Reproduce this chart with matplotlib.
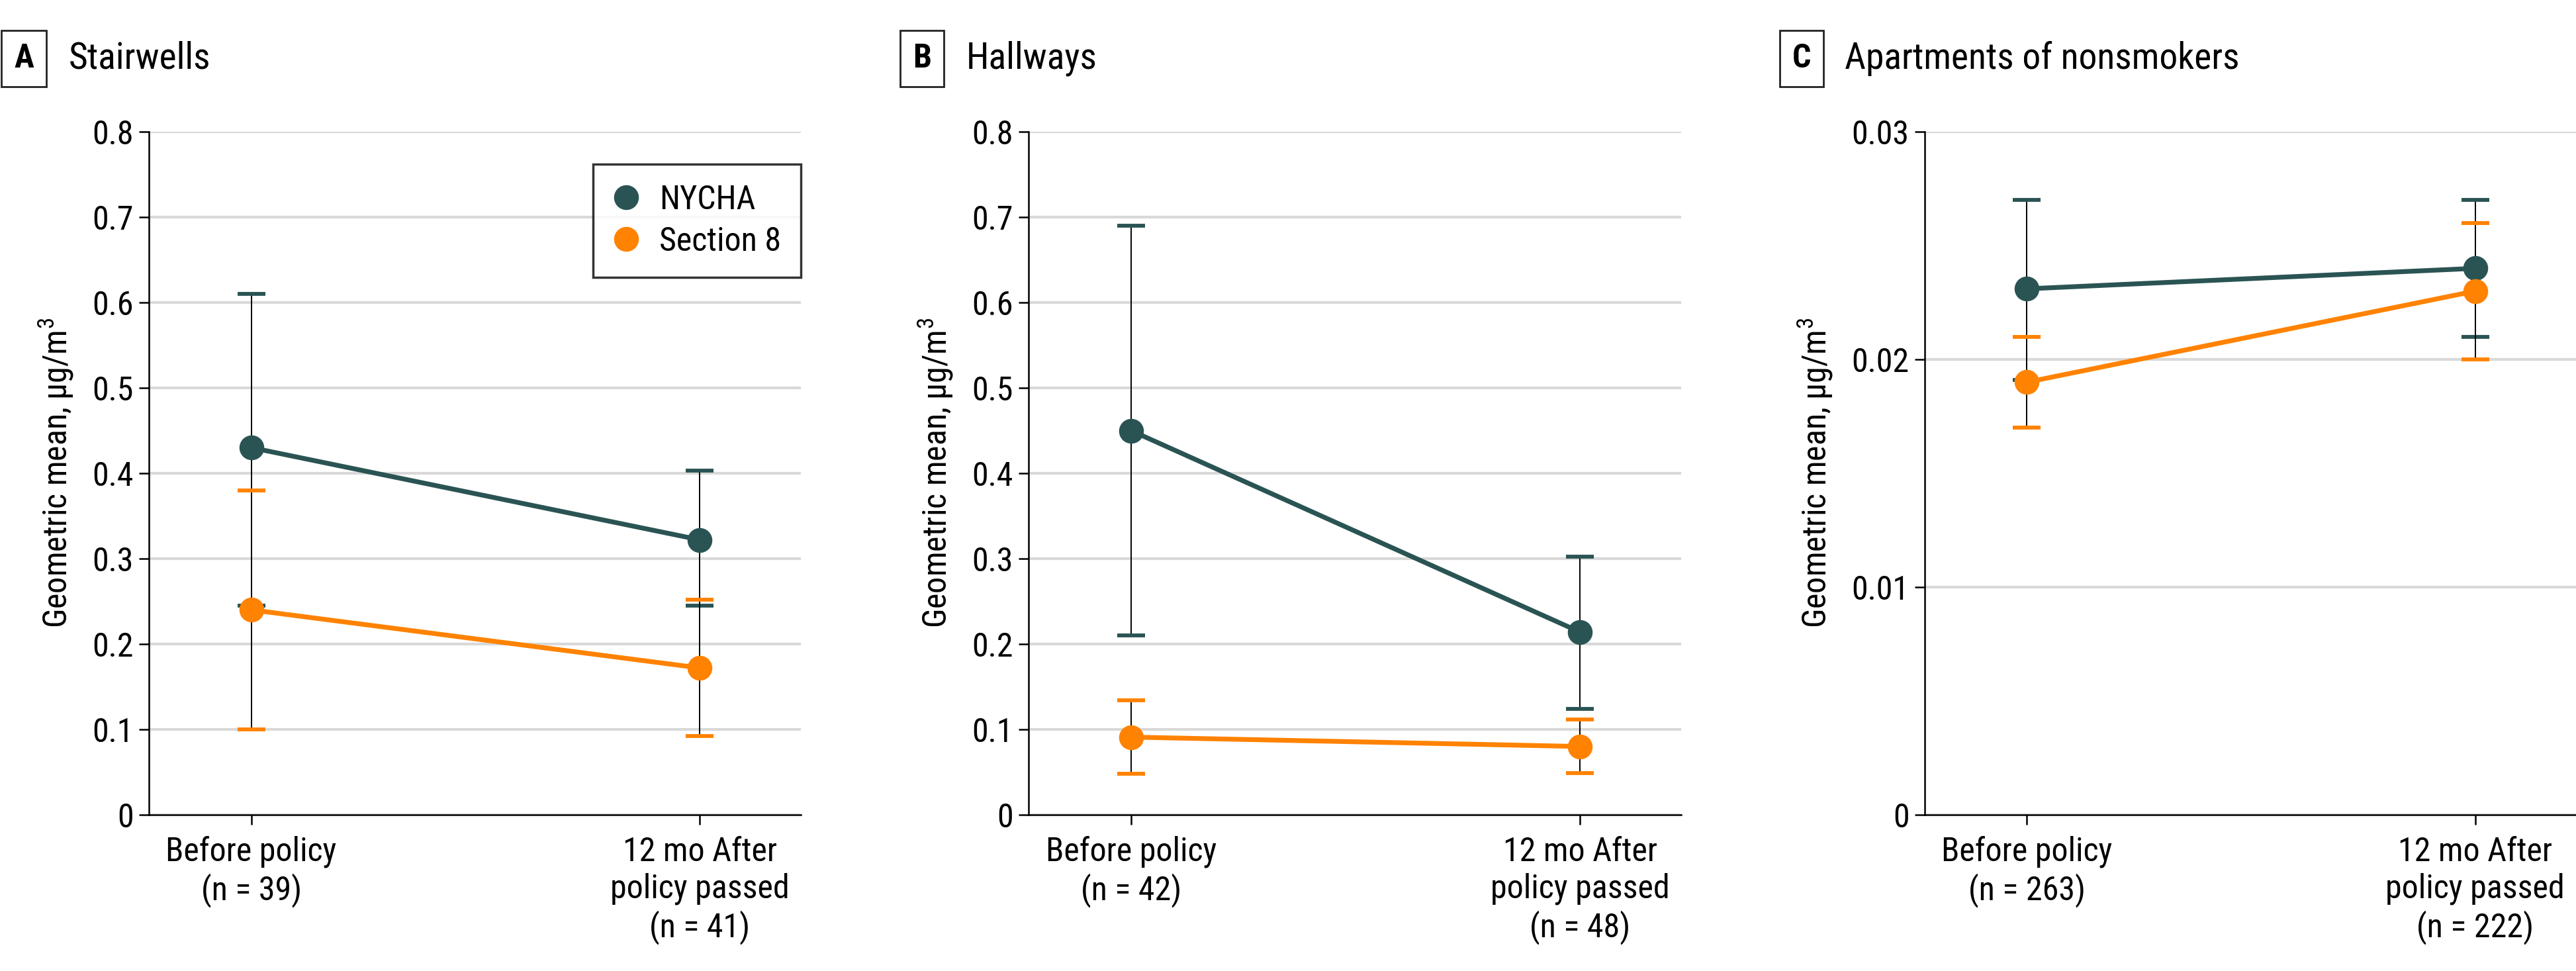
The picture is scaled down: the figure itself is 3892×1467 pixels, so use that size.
import matplotlib
matplotlib.use('Agg')
import matplotlib.pyplot as plt
from matplotlib.lines import Line2D
import numpy as np

# Данные (геометрическое среднее и 95% ДИ)
periods = ['Before policy', '12 mo After\npolicy passed']
groups = ['NYCHA', 'Section 8']

stair_n = [39, 41]
stair_nycha = [0.43, 0.322]
stair_nycha_lo = [0.245, 0.245]
stair_nycha_hi = [0.61, 0.403]
stair_s8 = [0.24, 0.172]
stair_s8_lo = [0.10, 0.092]
stair_s8_hi = [0.38, 0.252]

hall_n = [42, 48]
hall_nycha = [0.45, 0.214]
hall_nycha_lo = [0.21, 0.124]
hall_nycha_hi = [0.69, 0.302]
hall_s8 = [0.091, 0.080]
hall_s8_lo = [0.048, 0.049]
hall_s8_hi = [0.134, 0.112]

apt_n = [263, 222]
apt_nycha = [0.0231, 0.0240]
apt_nycha_lo = [0.0191, 0.021]
apt_nycha_hi = [0.027, 0.027]
apt_s8 = [0.019, 0.023]
apt_s8_lo = [0.017, 0.020]
apt_s8_hi = [0.021, 0.026]

NYCHA_COLOR = '#2a5453'
S8_COLOR = '#ff8200'
plt.rcParams['font.family'] = ['Roboto Condensed', 'DejaVu Sans']
plt.rcParams['mathtext.fontset'] = 'custom'
plt.rcParams['mathtext.rm'] = 'Roboto Condensed'
plt.rcParams['mathtext.default'] = 'regular'
FS = 36

W, H = 3892, 1467
fig = plt.figure(figsize=(W / 100, H / 100), dpi=100)


def draw_panel(ax, ns, nycha, nycha_lo, nycha_hi, s8, s8_lo, s8_hi, ymax, yticks, ylabels):
    x = np.arange(len(periods))
    series = [(nycha, nycha_lo, nycha_hi, NYCHA_COLOR),
              (s8, s8_lo, s8_hi, S8_COLOR)]
    for vals, lo, hi, color in series:
        vals = np.array(vals)
        err = [vals - np.array(lo), np.array(hi) - vals]
        _, caps, _ = ax.errorbar(x, vals, yerr=err, fmt='none', ecolor='black',
                                 elinewidth=1.4, capsize=15, capthick=4.2, zorder=3)
        for c in caps:
            c.set_markeredgecolor(color)
            c.set_markerfacecolor(color)
    for vals, lo, hi, color in series:
        ax.plot(x, vals, color=color, lw=5.2, marker='o', ms=26, zorder=4)

    ax.set_xlim(-0.228, 1.225)
    ax.set_ylim(0, ymax)
    ax.set_yticks(yticks)
    ax.set_yticklabels(ylabels)
    ax.set_xticks(x)
    ax.set_xticklabels([f'{p}\n(n = {n})' for p, n in zip(periods, ns)],
                       linespacing=1.2)
    ax.yaxis.grid(True, color='#d9d9d9', lw=3)
    ax.set_axisbelow(True)
    for s in ['top', 'right']:
        ax.spines[s].set_visible(False)
    for s in ['left', 'bottom']:
        ax.spines[s].set_linewidth(1.8)
    ax.tick_params(axis='both', labelsize=FS, length=11, width=1.8, direction='out')
    ax.tick_params(axis='y', pad=6)
    ax.tick_params(axis='x', pad=12)
    ax.set_ylabel('Geometric mean, µg/m$^{3}$', fontsize=FS, labelpad=18)


axA = fig.add_axes([225 / W, 1 - 1231 / H, 985 / W, 1032 / H])
axB = fig.add_axes([1554 / W, 1 - 1231 / H, 986 / W, 1032 / H])
axC = fig.add_axes([2908 / W, 1 - 1231 / H, 984 / W, 1032 / H])

t08 = np.round(np.arange(0, 0.81, 0.1), 1)
l08 = ['0'] + [f'{v:.1f}' for v in t08[1:]]
draw_panel(axA, stair_n, stair_nycha, stair_nycha_lo, stair_nycha_hi,
           stair_s8, stair_s8_lo, stair_s8_hi, 0.8, t08, l08)
draw_panel(axB, hall_n, hall_nycha, hall_nycha_lo, hall_nycha_hi,
           hall_s8, hall_s8_lo, hall_s8_hi, 0.8, t08, l08)
t03 = [0, 0.01, 0.02, 0.03]
draw_panel(axC, apt_n, apt_nycha, apt_nycha_lo, apt_nycha_hi,
           apt_s8, apt_s8_lo, apt_s8_hi, 0.03, t03, ['0', '0.01', '0.02', '0.03'])

# Легенда
handles = [Line2D([], [], ls='none', marker='o', ms=26, color=c)
           for c in [NYCHA_COLOR, S8_COLOR]]
leg = axA.legend(handles, groups, loc='upper right', bbox_to_anchor=(1.0, 0.953),
                 fontsize=FS, frameon=True, fancybox=False, borderaxespad=0,
                 handlelength=0.8, handletextpad=0.6, labelspacing=0.3,
                 borderpad=0.6)
leg.get_frame().set_edgecolor('black')
leg.get_frame().set_linewidth(2.5)

# Заголовки панелей
titles = [('A', 'Stairwells', 36, 104), ('B', 'Hallways', 1393, 1460),
          ('C', 'Apartments of nonsmokers', 2722, 2787)]
for letter, name, bx, tx in titles:
    fig.text(bx / W, 1 - 88 / H, letter, fontsize=36, fontweight='bold',
             ha='center', va='center',
             bbox=dict(boxstyle='square,pad=0.38', fc='white', ec='#222222', lw=2))
    fig.text(tx / W, 1 - 88 / H, name, fontsize=40, ha='left', va='center')

fig.savefig('out.png', dpi=100)
plt.close(fig)
